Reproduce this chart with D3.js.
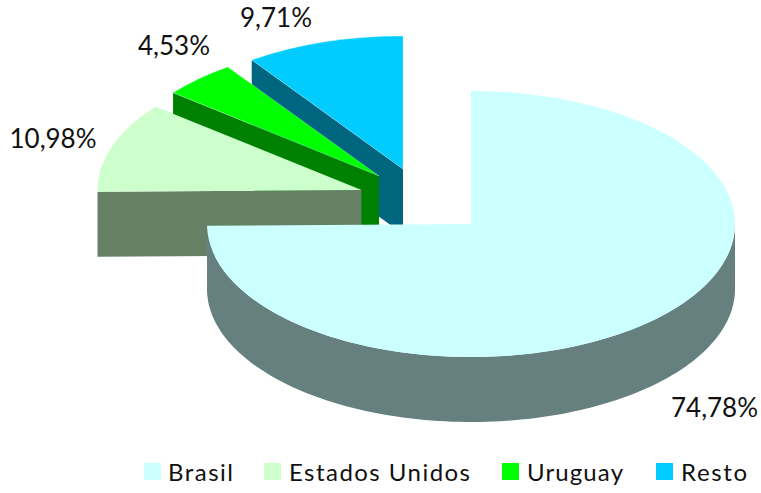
<!DOCTYPE html>
<html><head><meta charset="utf-8">
<script src="https://cdn.jsdelivr.net/npm/d3@7"></script>
<style>html,body{margin:0;padding:0;background:#fff}svg{display:block}text{font-family:Lato,sans-serif;fill:#111}</style>
</head><body><svg id="c" width="761" height="493"></svg>
<script>
const categories = ["Brasil","Estados Unidos","Uruguay","Resto"];
const shares = [74.78,10.98,4.53,9.71];
const shareLabels = ["74,78%","10,98%","4,53%","9,71%"];
const topColors = ["#CCFFFF","#CCFFCC","#00FF00","#00CCFF"];
const wallColors = ["#668080","#668066","#008000","#006680"];

const W=761,H=493, rx=264, ry=133, depth=65;
const centers=[[471,224],[361.5,190],[379,176],[403,169]];
const labelPos=[[714.5,417],[53,148],[174,55],[276,27]];
const legendX=[144,264,502,656], legendW=[65,181,96,66], legendY=463;

const svg=d3.select("#c");
const arcs=d3.pie().sort(null).value(d=>d)(shares);
const topArc=d3.arc().innerRadius(0).outerRadius(rx);
const pt=(c,a,dy=0)=>[c[0]+rx*Math.sin(a), c[1]-ry*Math.cos(a)+dy];
const line=d3.line();

[3,2,1,0].forEach(i=>{
  const a=arcs[i], c=centers[i], g=svg.append("g");
  const lo=Math.max(a.startAngle,Math.PI/2), hi=Math.min(a.endAngle,Math.PI*1.5);
  if(hi>lo){
    const s=d3.range(0,121).map(k=>lo+(hi-lo)*k/120);
    g.append("path").attr("fill",wallColors[i])
     .attr("d",line([...s.map(t=>pt(c,t)),...s.slice().reverse().map(t=>pt(c,t,depth))])+"Z");
  }
  const s0=pt(c,a.startAngle);
  if(i>0){
    g.append("path").attr("fill",wallColors[i])
     .attr("d",line([s0,c,[c[0],c[1]+depth],[s0[0],s0[1]+depth]])+"Z");
  }
  g.append("path").attr("fill",topColors[i])
   .attr("stroke",i>1?"#dff":"none").attr("stroke-width",i>1?0.4:0)
   .attr("transform",`translate(${c[0]},${c[1]}) scale(1,${ry/rx})`)
   .attr("d",topArc(a));
});

svg.selectAll("text.lab").data(shareLabels).join("text").attr("class","lab")
  .attr("x",(d,i)=>labelPos[i][0]).attr("y",(d,i)=>labelPos[i][1])
  .attr("text-anchor","middle").attr("font-size",26).text(d=>d);

const lg=svg.selectAll("g.lg").data(categories).join("g").attr("class","lg")
  .attr("transform",(d,i)=>`translate(${legendX[i]},${legendY})`);
lg.append("rect").attr("width",17).attr("height",17).attr("fill",(d,i)=>topColors[i]);
lg.append("text").attr("x",(d,i)=>i?25:24).attr("y",18).attr("font-size",24)
  .attr("textLength",(d,i)=>legendW[i]).attr("lengthAdjust","spacing").text(d=>d);
</script></body></html>
